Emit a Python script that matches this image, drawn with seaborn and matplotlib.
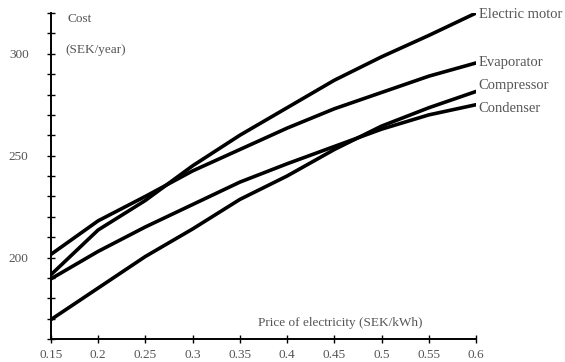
import numpy as np
import pandas as pd
import matplotlib
matplotlib.use('Agg')
import matplotlib.pyplot as plt
import seaborn as sns
from matplotlib.ticker import MultipleLocator

# Data
price = [0.15, 0.2, 0.25, 0.3, 0.35, 0.4, 0.45, 0.5, 0.55, 0.6]
electric_motor = [191.5, 213.5, 228, 245, 260, 273.5, 287, 298.5, 309, 320]
evaporator = [201.5, 218, 230, 242.5, 253, 263.5, 273, 281, 289, 295.5]
compressor = [169.5, 185, 200.5, 214, 228.5, 240, 253, 264.5, 273.5, 281.5]
condenser = [189.5, 203, 215, 226, 237, 246, 254.5, 263, 270, 275]
names = ['Electric motor', 'Evaporator', 'Compressor', 'Condenser']
label_y = [319.5, 295.5, 284.5, 273]
xlabels = ['0.15', '0.2', '0.25', '0.3', '0.35', '0.4', '0.45', '0.5', '0.55', '0.6']

df = pd.DataFrame({
    'price': price * 4,
    'cost': electric_motor + evaporator + compressor + condenser,
    'part': [n for n in names for _ in price],
})

sns.set_style('white')
plt.rcParams['font.family'] = ['Liberation Serif', 'DejaVu Serif']
txt = '#555555'

fig = plt.figure(figsize=(5.65, 3.62), dpi=100)
ax = fig.add_axes([0.090, 0.0635, 0.7525, 0.9005])

sns.lineplot(data=df, x='price', y='cost', hue='part', palette=['black'] * 4,
             linewidth=2.6, legend=False, ax=ax)

ax.set_xlim(0.15, 0.6)
ax.set_ylim(160, 320)
ax.set_xticks(price)
ax.set_xticklabels(xlabels)
ax.set_yticks([200, 250, 300])
ax.set_yticklabels(['200', '250', '300'])
ax.yaxis.set_minor_locator(MultipleLocator(10))
ax.tick_params(axis='both', which='both', direction='inout', length=6, width=1.0,
               bottom=True, left=True, colors='black', labelcolor=txt, labelsize=9.5)
ax.tick_params(axis='y', pad=13)
ax.tick_params(axis='x', pad=4)
ax.set_xlabel('')
ax.set_ylabel('')

for s in ['top', 'right']:
    ax.spines[s].set_visible(False)
for s in ['left', 'bottom']:
    ax.spines[s].set_color('black')
    ax.spines[s].set_linewidth(1.4)

ax.text(0.168, 317, 'Cost', color=txt, fontsize=9.5, va='center')
ax.text(0.165, 302, '(SEK/year)', color=txt, fontsize=9.5, va='center')
ax.text(0.369, 168, 'Price of electricity (SEK/kWh)', color=txt, fontsize=9.5, va='center')
for n, y in zip(names, label_y):
    ax.text(0.603, y, n, color=txt, fontsize=10.5, va='center', clip_on=False)

fig.savefig('out.png', dpi=100)
